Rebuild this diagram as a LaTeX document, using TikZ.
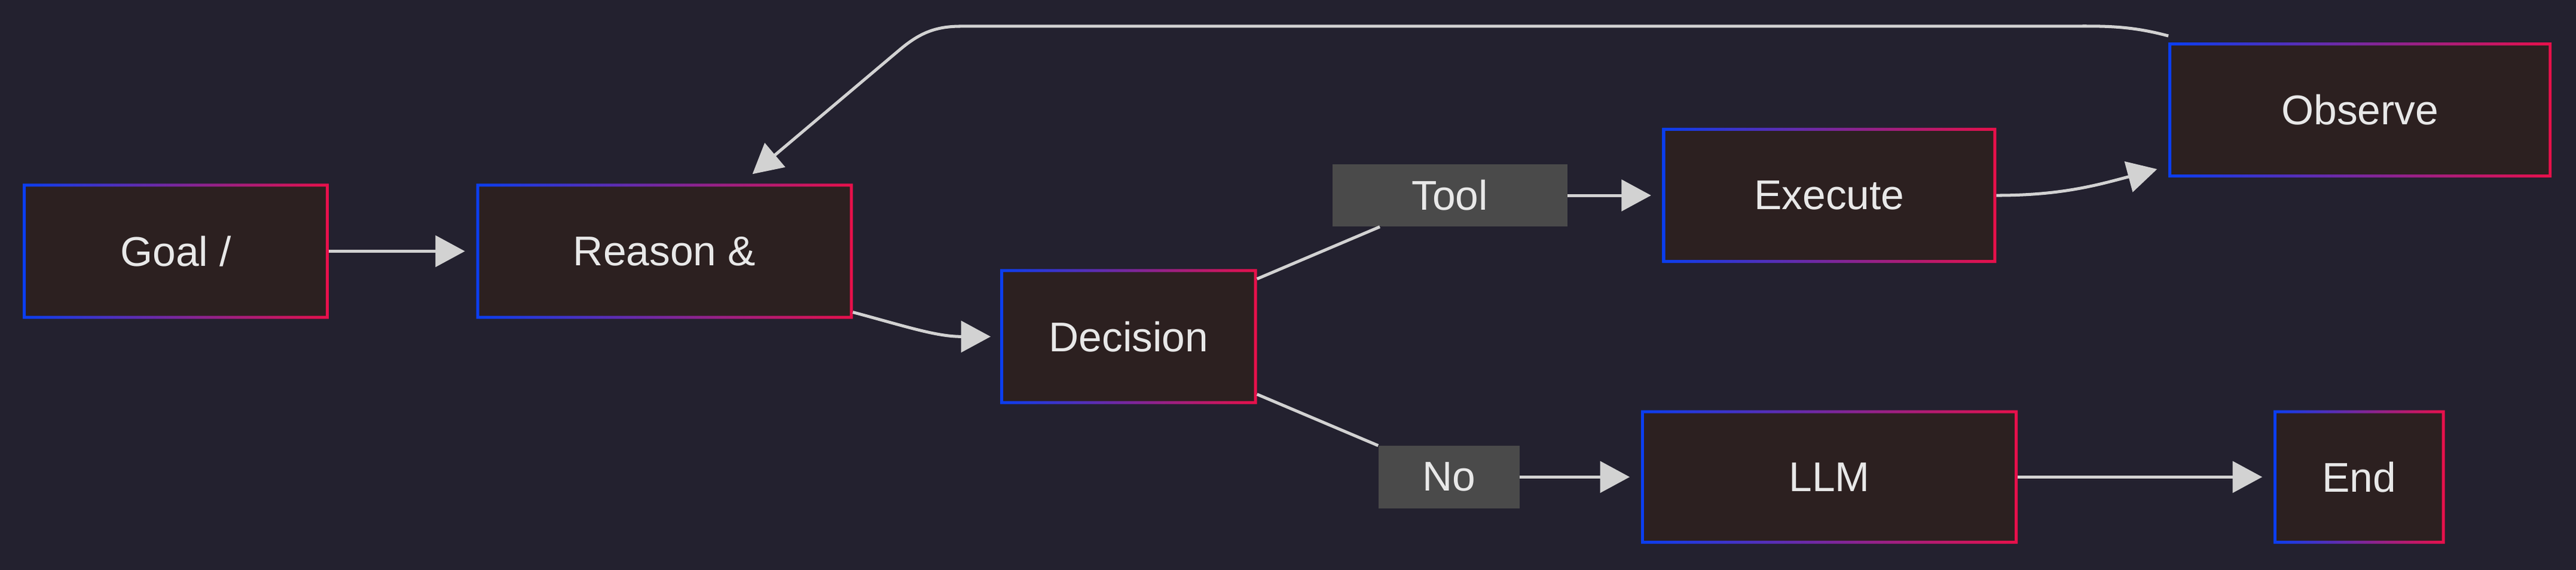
\documentclass[tikz,border=0pt]{standalone}
\usepackage{fontspec}
\setmainfont{Liberation Sans}
\usetikzlibrary{arrows.meta,calc}
\definecolor{bgdark}{HTML}{23212F}
\definecolor{boxfill}{HTML}{2C2020}
\definecolor{edgeblue}{HTML}{0A3EF0}
\definecolor{edgered}{HTML}{E8104A}
\definecolor{wire}{HTML}{D2D2D2}
\definecolor{tagfill}{HTML}{4A4A4A}
\definecolor{txt}{HTML}{E8E8E8}
\tikzset{
	x=0.05cm, y=-0.05cm,
	stage/.style={fill=boxfill, text=txt, inner sep=0pt,
		font=\fontsize{36}{43}\selectfont},
	tag/.style={fill=tagfill, text=txt, inner sep=0pt, minimum height=1.9cm,
		font=\fontsize{36}{43}\selectfont},
	frame/.style={left color=edgeblue, right color=edgered, even odd rule},
	flow/.style={draw=wire, line width=2.6pt,
		-{Triangle[length=0.9cm,width=0.95cm]}},
	link/.style={draw=wire, line width=2.6pt}
}
\newcommand{\gframe}[1]{%
	\shade[frame] (#1.south west) rectangle (#1.north east)
		($(#1.south west)+(0.09cm,0.09cm)$) rectangle ($(#1.north east)-(0.09cm,0.09cm)$);}
\begin{document}
\begin{tikzpicture}
	\fill[bgdark] (0,0) rectangle (1568,347);
	\useasboundingbox (0,0) rectangle (1568,347);
	% boxes
	\node[stage, minimum width=9.3cm,  minimum height=4.1cm] (goal)     at (107,153)   {Goal /};
	\node[stage, minimum width=11.45cm, minimum height=4.1cm] (reason)  at (404.5,153) {Reason \&};
	\node[stage, minimum width=7.8cm,  minimum height=4.1cm] (decision) at (687,205)   {Decision};
	\node[stage, minimum width=10.15cm, minimum height=4.1cm] (execute) at (1113.5,119) {Execute};
	\node[stage, minimum width=11.65cm, minimum height=4.1cm] (observe) at (1436.5,67) {Observe};
	\node[stage, minimum width=11.45cm, minimum height=4.05cm] (llm)    at (1113.5,290.5) {LLM};
	\node[stage, minimum width=5.2cm,  minimum height=4.05cm] (end)     at (1436,290.5) {End};
	\foreach \n in {goal,reason,decision,execute,observe,llm,end} {\gframe{\n}}
	% edge labels
	\node[tag, minimum width=7.15cm] (tool) at (882.5,119) {Tool};
	\node[tag, minimum width=4.3cm]  (no)   at (882,290.5) {No};
	% connectors
	\draw[flow] (goal) -- (283,153);
	\coordinate (decin) at (603,205);
	\coordinate (rout) at ($(reason.south east)+(0,0.2cm)$);
	\draw[flow] (rout) to[out=-15,in=180] (decin);
	\draw[link] ($(decision.north east)+(0,6)$) -- ($(tool.south west)+(29,0)$);
	\draw[flow] (tool) -- (1005,119);
	\coordinate (obsin) at (1313,103);
	\draw[flow] (execute) to[out=0,in=195] (obsin);
	\draw[link] ($(decision.south east)+(0,-6)$) -- (no.north west);
	\draw[flow] (no) -- (992,290.5);
	\draw[flow] (llm) -- (1377,290.5);
	\coordinate (rin) at (458,106);
	\draw[flow] ($(observe.north west)+(0,-4)$) to[out=165,in=0] (1250,16) -- (585,16)
		to[out=180,in=40] (548,30) -- (rin);
\end{tikzpicture}
\end{document}
